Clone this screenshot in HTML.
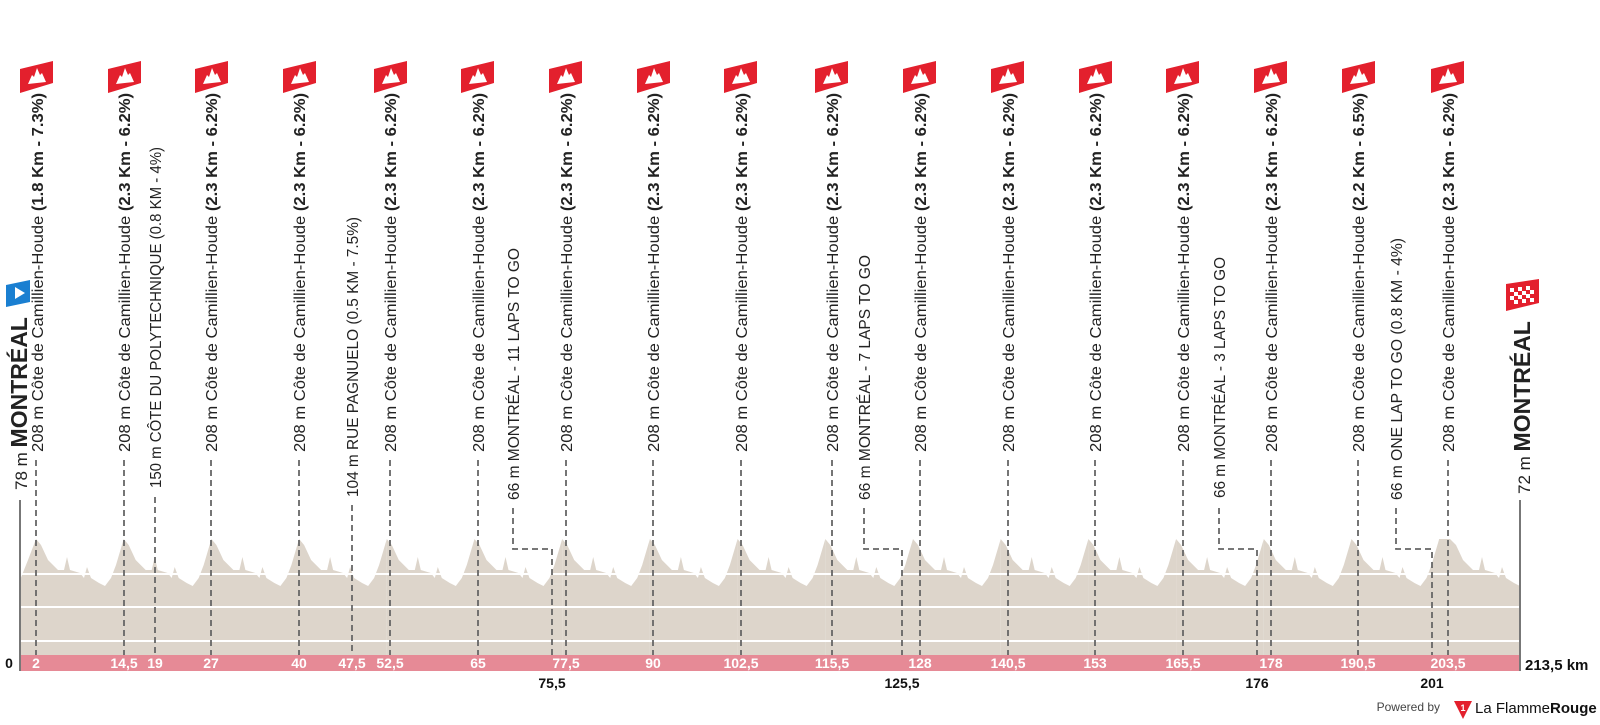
<!DOCTYPE html>
<html><head><meta charset="utf-8"><style>
html,body{margin:0;padding:0;background:#fff;}
svg{display:block;font-family:"Liberation Sans",sans-serif;}
</style></head><body>
<svg width="1600" height="725" viewBox="0 0 1600 725" xmlns="http://www.w3.org/2000/svg">
<defs>
<polygon id="lap" points="0,655 0,539 5,545 12,560 22,570 28,570 31,557 34,570 44,573 48,578 51,567 55,578 63,583 69,586 75,578 80,565 87.7,539 87.7,655" fill="#ddd5cb"/>
<g id="flag"><polygon points="-17,69 16,61 16,83 -17,93" fill="#e3202d"/><polygon points="-9,84 -5,75 -3,77 0,68 3,75 5,73 9,82" fill="#fff"/></g>
</defs>
<polygon points="20,655 20,580 28,560 36,539 36,655" fill="#ddd5cb"/>
<use href="#lap" x="36"/><use href="#lap" x="123.7"/><use href="#lap" x="211.4"/><use href="#lap" x="299.1"/>
<use href="#lap" x="386.8"/><use href="#lap" x="474.5"/><use href="#lap" x="562.2"/><use href="#lap" x="649.9"/>
<use href="#lap" x="737.6"/><use href="#lap" x="825.3"/><use href="#lap" x="913"/><use href="#lap" x="1000.7"/>
<use href="#lap" x="1088.4"/><use href="#lap" x="1176.1"/><use href="#lap" x="1263.8"/><use href="#lap" x="1351.5"/>
<polygon points="1439,655 1439,539 1450,539 1456,545 1463,560 1473,570 1479,570 1482,557 1485,570 1495,573 1499,578 1502,567 1506,578 1514,583 1520,586 1520,655" fill="#ddd5cb"/>
<g stroke="#fff" stroke-width="2"><line x1="21" y1="574" x2="1519" y2="574"/><line x1="21" y1="607" x2="1519" y2="607"/><line x1="21" y1="641" x2="1519" y2="641"/></g>
<rect x="20" y="655" width="1500" height="16" fill="#e68a96"/>
<line x1="20" y1="500" x2="20" y2="671" stroke="#777" stroke-width="2"/>
<line x1="1520" y1="500" x2="1520" y2="671" stroke="#777" stroke-width="2"/>
<g stroke="#666" stroke-width="1.8" stroke-dasharray="6,4" fill="none">
<line x1="36" y1="460" x2="36" y2="655"/><line x1="124" y1="460" x2="124" y2="655"/>
<line x1="155" y1="497" x2="155" y2="655"/><line x1="211" y1="460" x2="211" y2="655"/>
<line x1="299" y1="460" x2="299" y2="655"/><line x1="352" y1="505" x2="352" y2="655"/>
<line x1="390" y1="460" x2="390" y2="655"/><line x1="478" y1="460" x2="478" y2="655"/>
<polyline points="513,508 513,549 552,549 552,655"/>
<line x1="566" y1="460" x2="566" y2="655"/><line x1="653" y1="460" x2="653" y2="655"/>
<line x1="741" y1="460" x2="741" y2="655"/><line x1="832" y1="460" x2="832" y2="655"/>
<polyline points="864,508 864,549 902,549 902,655"/>
<line x1="920" y1="460" x2="920" y2="655"/><line x1="1008" y1="460" x2="1008" y2="655"/>
<line x1="1095" y1="460" x2="1095" y2="655"/><line x1="1183" y1="460" x2="1183" y2="655"/>
<polyline points="1219,508 1219,549 1257,549 1257,655"/>
<line x1="1271" y1="460" x2="1271" y2="655"/><line x1="1358" y1="460" x2="1358" y2="655"/>
<polyline points="1396,508 1396,549 1432,549 1432,655"/>
<line x1="1448" y1="460" x2="1448" y2="655"/>
</g>
<use href="#flag" x="37"/><use href="#flag" x="125"/><use href="#flag" x="212"/><use href="#flag" x="300"/>
<use href="#flag" x="391"/><use href="#flag" x="478"/><use href="#flag" x="566"/><use href="#flag" x="654"/>
<use href="#flag" x="741"/><use href="#flag" x="832"/><use href="#flag" x="920"/><use href="#flag" x="1008"/>
<use href="#flag" x="1096"/><use href="#flag" x="1183"/><use href="#flag" x="1271"/><use href="#flag" x="1359"/><use href="#flag" x="1448"/>
<g font-size="16" fill="#222">
<text transform="translate(43,452) rotate(-90)" textLength="359" lengthAdjust="spacingAndGlyphs">208 m Côte de Camillien-Houde <tspan font-weight="bold">(1.8 Km - 7.3%)</tspan></text>
<text transform="translate(130,452) rotate(-90)" textLength="359" lengthAdjust="spacingAndGlyphs">208 m Côte de Camillien-Houde <tspan font-weight="bold">(2.3 Km - 6.2%)</tspan></text>
<text transform="translate(161,488) rotate(-90)" textLength="341" lengthAdjust="spacingAndGlyphs">150 m CÔTE DU POLYTECHNIQUE (0.8 KM - 4%)</text>
<text transform="translate(217,452) rotate(-90)" textLength="359" lengthAdjust="spacingAndGlyphs">208 m Côte de Camillien-Houde <tspan font-weight="bold">(2.3 Km - 6.2%)</tspan></text>
<text transform="translate(305,452) rotate(-90)" textLength="359" lengthAdjust="spacingAndGlyphs">208 m Côte de Camillien-Houde <tspan font-weight="bold">(2.3 Km - 6.2%)</tspan></text>
<text transform="translate(358,497) rotate(-90)" textLength="280" lengthAdjust="spacingAndGlyphs">104 m RUE PAGNUELO (0.5 KM - 7.5%)</text>
<text transform="translate(396,452) rotate(-90)" textLength="359" lengthAdjust="spacingAndGlyphs">208 m Côte de Camillien-Houde <tspan font-weight="bold">(2.3 Km - 6.2%)</tspan></text>
<text transform="translate(484,452) rotate(-90)" textLength="359" lengthAdjust="spacingAndGlyphs">208 m Côte de Camillien-Houde <tspan font-weight="bold">(2.3 Km - 6.2%)</tspan></text>
<text transform="translate(519,500) rotate(-90)" textLength="252" lengthAdjust="spacingAndGlyphs">66 m MONTRÉAL - 11 LAPS TO GO</text>
<text transform="translate(572,452) rotate(-90)" textLength="359" lengthAdjust="spacingAndGlyphs">208 m Côte de Camillien-Houde <tspan font-weight="bold">(2.3 Km - 6.2%)</tspan></text>
<text transform="translate(659,452) rotate(-90)" textLength="359" lengthAdjust="spacingAndGlyphs">208 m Côte de Camillien-Houde <tspan font-weight="bold">(2.3 Km - 6.2%)</tspan></text>
<text transform="translate(747,452) rotate(-90)" textLength="359" lengthAdjust="spacingAndGlyphs">208 m Côte de Camillien-Houde <tspan font-weight="bold">(2.3 Km - 6.2%)</tspan></text>
<text transform="translate(838,452) rotate(-90)" textLength="359" lengthAdjust="spacingAndGlyphs">208 m Côte de Camillien-Houde <tspan font-weight="bold">(2.3 Km - 6.2%)</tspan></text>
<text transform="translate(870,500) rotate(-90)" textLength="245" lengthAdjust="spacingAndGlyphs">66 m MONTRÉAL - 7 LAPS TO GO</text>
<text transform="translate(926,452) rotate(-90)" textLength="359" lengthAdjust="spacingAndGlyphs">208 m Côte de Camillien-Houde <tspan font-weight="bold">(2.3 Km - 6.2%)</tspan></text>
<text transform="translate(1014,452) rotate(-90)" textLength="359" lengthAdjust="spacingAndGlyphs">208 m Côte de Camillien-Houde <tspan font-weight="bold">(2.3 Km - 6.2%)</tspan></text>
<text transform="translate(1101,452) rotate(-90)" textLength="359" lengthAdjust="spacingAndGlyphs">208 m Côte de Camillien-Houde <tspan font-weight="bold">(2.3 Km - 6.2%)</tspan></text>
<text transform="translate(1189,452) rotate(-90)" textLength="359" lengthAdjust="spacingAndGlyphs">208 m Côte de Camillien-Houde <tspan font-weight="bold">(2.3 Km - 6.2%)</tspan></text>
<text transform="translate(1225,498) rotate(-90)" textLength="241" lengthAdjust="spacingAndGlyphs">66 m MONTRÉAL - 3 LAPS TO GO</text>
<text transform="translate(1277,452) rotate(-90)" textLength="359" lengthAdjust="spacingAndGlyphs">208 m Côte de Camillien-Houde <tspan font-weight="bold">(2.3 Km - 6.2%)</tspan></text>
<text transform="translate(1364,452) rotate(-90)" textLength="359" lengthAdjust="spacingAndGlyphs">208 m Côte de Camillien-Houde <tspan font-weight="bold">(2.2 Km - 6.5%)</tspan></text>
<text transform="translate(1402,500) rotate(-90)" textLength="262" lengthAdjust="spacingAndGlyphs">66 m ONE LAP TO GO (0.8 KM - 4%)</text>
<text transform="translate(1454,452) rotate(-90)" textLength="359" lengthAdjust="spacingAndGlyphs">208 m Côte de Camillien-Houde <tspan font-weight="bold">(2.3 Km - 6.2%)</tspan></text>
</g>
<polygon points="6,285 30,280 30,302 6,307" fill="#1a7fd1"/>
<polygon points="15,287 25,293 15,299" fill="#fff"/>
<text transform="translate(27,490) rotate(-90)" fill="#222" font-size="17">78 m <tspan font-weight="bold" font-size="23">MONTRÉAL</tspan></text>
<polygon points="1506,284 1539,279 1539,303 1506,311" fill="#e3202d"/>
<g fill="#fff"><rect x="1510" y="288" width="4" height="4"/><rect x="1518" y="287" width="4" height="4"/><rect x="1526" y="286" width="4" height="4"/><rect x="1514" y="292" width="4" height="4"/><rect x="1522" y="291" width="4" height="4"/><rect x="1530" y="290" width="4" height="4"/><rect x="1510" y="296" width="4" height="4"/><rect x="1518" y="295" width="4" height="4"/><rect x="1526" y="294" width="4" height="4"/><rect x="1514" y="300" width="4" height="4"/><rect x="1522" y="299" width="4" height="4"/><rect x="1530" y="298" width="4" height="4"/></g>
<text transform="translate(1530,494) rotate(-90)" fill="#222" font-size="17">72 m <tspan font-weight="bold" font-size="23">MONTRÉAL</tspan></text>
<g font-size="14" font-weight="bold" fill="#fff" text-anchor="middle">
<text x="36" y="668">2</text><text x="124" y="668">14,5</text><text x="155" y="668">19</text><text x="211" y="668">27</text>
<text x="299" y="668">40</text><text x="352" y="668">47,5</text><text x="390" y="668">52,5</text><text x="478" y="668">65</text>
<text x="566" y="668">77,5</text><text x="653" y="668">90</text><text x="741" y="668">102,5</text><text x="832" y="668">115,5</text>
<text x="920" y="668">128</text><text x="1008" y="668">140,5</text><text x="1095" y="668">153</text><text x="1183" y="668">165,5</text>
<text x="1271" y="668">178</text><text x="1358" y="668">190,5</text><text x="1448" y="668">203,5</text>
</g>
<g font-size="14" font-weight="bold" fill="#111" text-anchor="middle">
<text x="552" y="688">75,5</text><text x="902" y="688">125,5</text><text x="1257" y="688">176</text><text x="1432" y="688">201</text>
<text x="9" y="668">0</text>
</g>
<text x="1525" y="670" font-size="15" font-weight="bold" fill="#111">213,5 km</text>
<text x="1440" y="711" font-size="12" fill="#444" text-anchor="end">Powered by</text>
<polygon points="1454,701 1472,701 1463,719" fill="#e3202d"/>
<text x="1463" y="711" font-size="9" font-weight="bold" fill="#fff" text-anchor="middle">1</text>
<text x="1475" y="713" font-size="15" fill="#111">La Flamme<tspan font-weight="bold">Rouge</tspan></text>
</svg>
</body></html>
